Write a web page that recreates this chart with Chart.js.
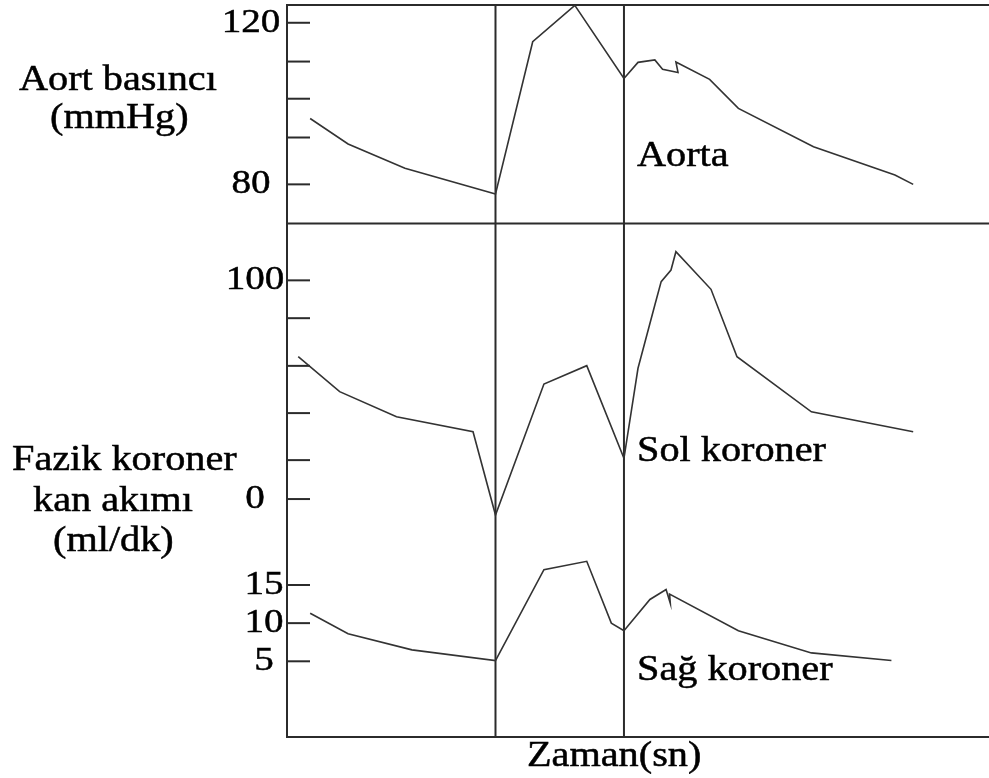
<!DOCTYPE html>
<html>
<head>
<meta charset="utf-8">
<script src="https://cdn.jsdelivr.net/npm/chart.js@4.4.0/dist/chart.umd.min.js"></script>
<style>
  html, body { margin: 0; padding: 0; background: #fff; }
  #chart { display: block; }
</style>
</head>
<body>
<canvas id="chart" width="989" height="778" style="width:989px;height:778px"></canvas>
<script>
// time axis has no ticks, 0..100 just spans the box
const aortaTime     = [3.3, 8.7, 16.8, 29.7, 35.0, 41.0, 48.0, 50.0, 52.4, 53.5, 55.7, 55.4, 60.2, 64.3, 75.0, 86.6, 89.2];
const aortaPressure = [96.3, 90.0, 84.0, 77.6, 115.3, 124.3, 106.2, 110.2, 110.8, 108.5, 107.7, 110.3, 106.0, 98.8, 89.3, 82.3, 80.0];

const solTime = [1.6, 7.5, 15.6, 26.5, 29.7, 36.6, 42.7, 48.0, 50.0, 52.4, 53.3, 54.7, 55.4, 60.4, 64.1, 74.7, 89.2];
const solFlow = [65.1, 49.1, 37.6, 30.8, -7.3, 52.6, 61.0, 18.6, 59.8, 88.7, 99.4, 104.7, 113.1, 95.9, 65.1, 39.9, 30.8];

const sagTime = [3.3, 8.7, 17.8, 29.7, 36.6, 42.7, 46.2, 48.0, 51.7, 54.0, 54.6, 54.5, 64.3, 74.7, 86.1];
const sagFlow = [11.3, 8.6, 6.5, 5.1, 17.0, 18.1, 10.0, 9.0, 13.1, 14.4, 12.6, 13.8, 9.0, 6.1, 5.1];

// phase boundaries (vertical lines)
const phaseTimes = [29.7, 48.0];

const aortaTicks = [120, 110.4, 101.2, 91.6, 80];
const aortaTickLabels = ['120', '', '', '', '80'];
const solTicks = [100, 82.7, 60.9, 39.3, 17.8, 0];
const solTickLabels = ['100', '', '', '', '', '0'];
const sagTicks = [15, 10, 5];
const sagTickLabels = ['15', '10', '5'];

const FONT = '35px "Liberation Serif", "Times New Roman", serif';
const INK = '#2b2b2b';

function pts(xs, ys) {
  return xs.map((x, i) => ({ x: x, y: ys[i] }));
}

// serif text in the scan is a bit wide and heavy, stretch + thin outline
function wideText(ctx, str, x, y, align, baseline) {
  ctx.save();
  ctx.translate(x, y);
  ctx.scale(1.15, 1);
  ctx.textAlign = align;
  ctx.textBaseline = baseline || 'alphabetic';
  ctx.fillText(str, 0, 0);
  ctx.lineWidth = 0.5;
  ctx.strokeStyle = '#000';
  ctx.strokeText(str, 0, 0);
  ctx.restore();
}

const framePlugin = {
  id: 'frame',
  beforeDatasetsDraw(chart) {
    const ctx = chart.ctx;
    const a = chart.chartArea;
    const x = chart.scales.x;
    const yA = chart.scales.yAorta;
    ctx.save();
    ctx.strokeStyle = INK;
    ctx.lineWidth = 2;
    ctx.beginPath();
    ctx.moveTo(a.right, a.top);
    ctx.lineTo(a.left, a.top);
    ctx.lineTo(a.left, a.bottom);
    ctx.lineTo(a.right, a.bottom);
    // panel divider under the aorta trace
    const yDiv = yA.getPixelForValue(70.3);
    ctx.moveTo(a.left, yDiv);
    ctx.lineTo(a.right, yDiv);
    phaseTimes.forEach(t => {
      const px = x.getPixelForValue(t);
      ctx.moveTo(px, a.top);
      ctx.lineTo(px, a.bottom);
    });
    ctx.stroke();

    // inward tick marks + labels
    const axes = [
      { id: 'yAorta', ticks: aortaTicks, labels: aortaTickLabels, cx: 251 },
      { id: 'ySol', ticks: solTicks, labels: solTickLabels, cx: 255 },
      { id: 'ySag', ticks: sagTicks, labels: sagTickLabels, cx: 264 }
    ];
    ctx.font = '34px "Liberation Serif", "Times New Roman", serif';
    ctx.fillStyle = '#000';
    axes.forEach(ax => {
      const s = chart.scales[ax.id];
      ax.ticks.forEach((v, i) => {
        const py = s.getPixelForValue(v);
        ctx.strokeStyle = INK;
        ctx.lineWidth = 2;
        ctx.beginPath();
        ctx.moveTo(a.left, py);
        ctx.lineTo(a.left + 23, py);
        ctx.stroke();
        if (ax.labels[i]) wideText(ctx, ax.labels[i], ax.cx, py, 'center', 'middle');
      });
    });
    ctx.restore();
  },
  afterDraw(chart) {
    const ctx = chart.ctx;
    ctx.save();
    ctx.font = FONT;
    ctx.fillStyle = '#000';
    wideText(ctx, 'Aort basıncı', 19, 90, 'left');
    wideText(ctx, '(mmHg)', 50, 128, 'left');
    wideText(ctx, 'Fazik koroner', 12, 470, 'left');
    wideText(ctx, 'kan akımı', 33, 511, 'left');
    wideText(ctx, '(ml/dk)', 53, 551, 'left');
    wideText(ctx, 'Aorta', 637, 166, 'left');
    wideText(ctx, 'Sol koroner', 637, 461, 'left');
    wideText(ctx, 'Sağ koroner', 637, 680, 'left');
    wideText(ctx, 'Zaman(sn)', 527, 766, 'left');
    ctx.restore();
  }
};

const lineStyle = {
  borderColor: '#333',
  borderWidth: 1.6,
  pointRadius: 0,
  tension: 0,
  fill: false
};

new Chart(document.getElementById('chart'), {
  type: 'line',
  data: {
    datasets: [
      Object.assign({ label: 'Aorta', data: pts(aortaTime, aortaPressure), yAxisID: 'yAorta' }, lineStyle),
      Object.assign({ label: 'Sol koroner', data: pts(solTime, solFlow), yAxisID: 'ySol' }, lineStyle),
      Object.assign({ label: 'Sağ koroner', data: pts(sagTime, sagFlow), yAxisID: 'ySag' }, lineStyle)
    ]
  },
  options: {
    responsive: false,
    animation: false,
    layout: { padding: { left: 287, top: 5, right: 0, bottom: 41 } },
    plugins: {
      legend: { display: false },
      tooltip: { enabled: false },
      title: { display: false }
    },
    scales: {
      x: { type: 'linear', min: 0, max: 100, display: false },
      yAorta: { type: 'linear', min: -56.8, max: 124.4, display: false },
      ySol: { type: 'linear', min: -108.8, max: 225.9, display: false },
      ySag: { type: 'linear', min: -4.92, max: 91.0, display: false }
    }
  },
  plugins: [framePlugin]
});
</script>
</body>
</html>
